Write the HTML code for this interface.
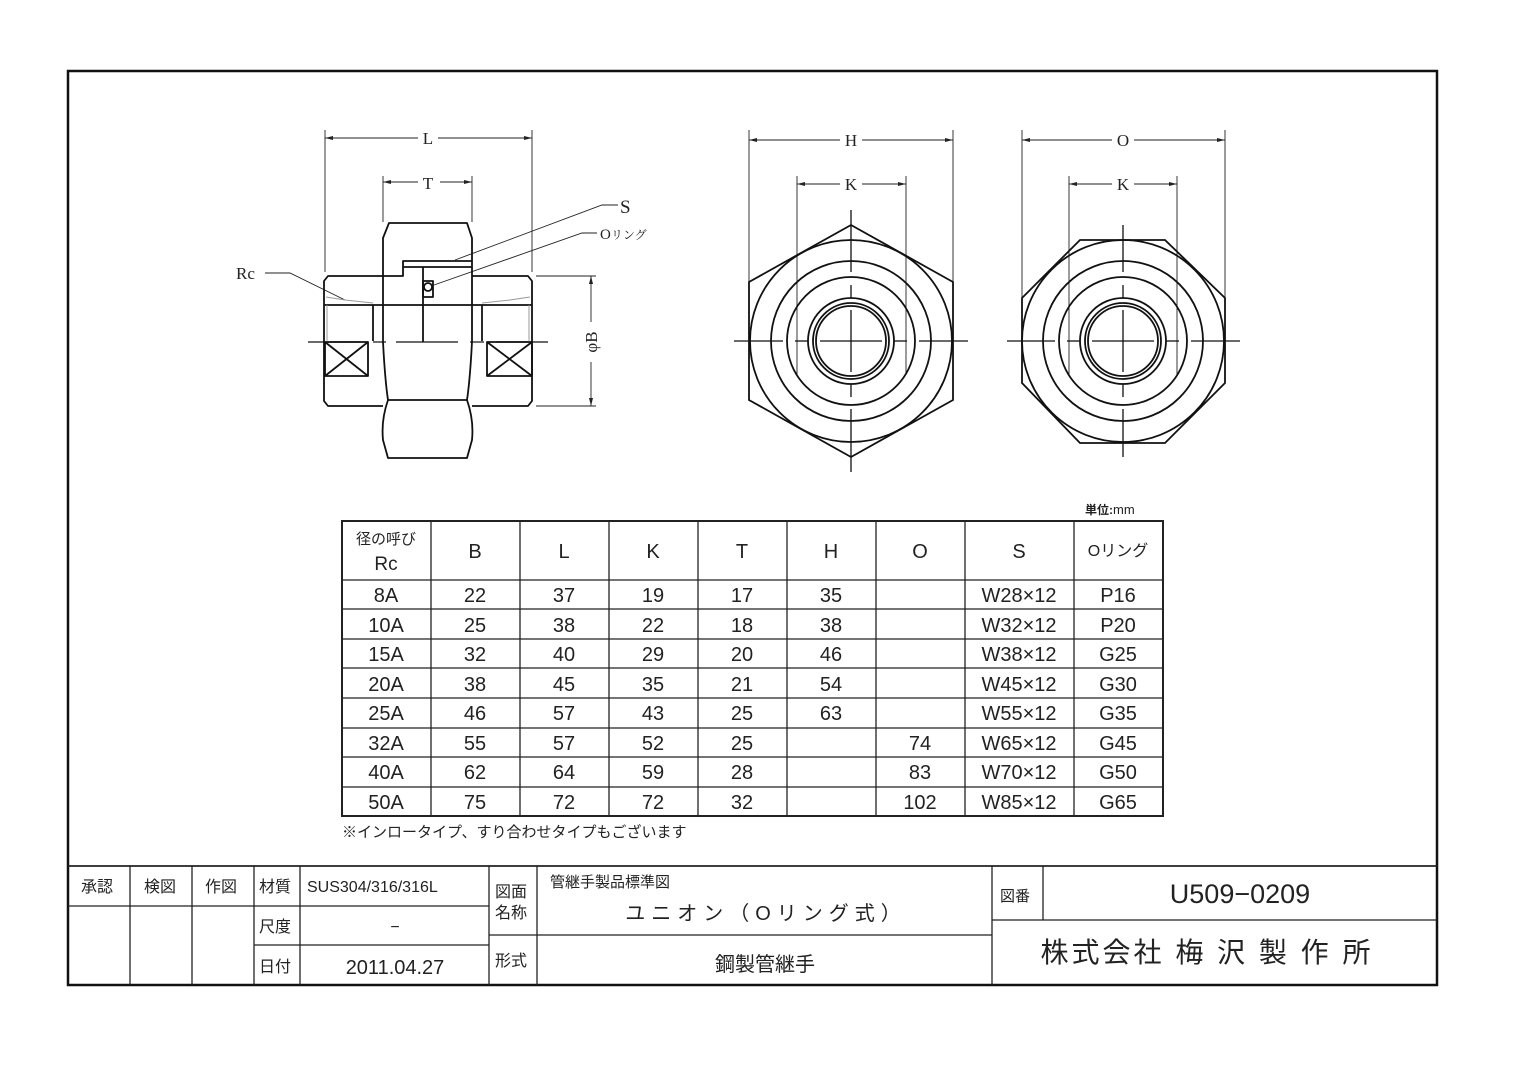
<!DOCTYPE html>
<html><head><meta charset="utf-8"><style>
html,body{margin:0;padding:0;background:#fff;}
svg{display:block;}
text{font-family:"Liberation Sans","Noto Sans CJK JP",sans-serif;fill:#222;}
.s{font-family:"Liberation Serif","Noto Serif CJK SC",serif;}
</style></head><body>
<svg width="1536" height="1086" viewBox="0 0 1536 1086" xmlns="http://www.w3.org/2000/svg">
<rect x="0" y="0" width="1536" height="1086" fill="#fff"/>
<rect x="68" y="71" width="1369" height="914" fill="none" stroke="#111" stroke-width="2.5"/>

<g stroke="#222" stroke-width="0.9" fill="none">
 <line x1="325" y1="130" x2="325" y2="272"/><line x1="532" y1="130" x2="532" y2="272"/>
 <line x1="325" y1="138" x2="418" y2="138"/><line x1="438" y1="138" x2="532" y2="138"/>
 <line x1="383" y1="176" x2="383" y2="222"/><line x1="472" y1="176" x2="472" y2="222"/>
 <line x1="383" y1="182" x2="418" y2="182"/><line x1="440" y1="182" x2="472" y2="182"/>
 <line x1="536" y1="276" x2="596" y2="276"/><line x1="536" y1="406" x2="596" y2="406"/>
 <line x1="591" y1="276" x2="591" y2="322"/><line x1="591" y1="362" x2="591" y2="406"/>
 <polyline points="265,273 290,273 345,300"/>
 <polyline points="618,205 602,205 455,260"/>
 <polyline points="597,233 582,233 434,285"/>
</g>
<g fill="#222">
 <polygon points="325,138 333,136 333,140"/><polygon points="532,138 524,136 524,140"/>
 <polygon points="383,182 391,180 391,184"/><polygon points="472,182 464,180 464,184"/>
 <polygon points="591,276 589,284 593,284"/><polygon points="591,406 589,398 593,398"/>
</g>
<text class="s" x="428" y="144" font-size="17" text-anchor="middle">L</text>
<text class="s" x="428" y="189" font-size="17" text-anchor="middle">T</text>
<text class="s" x="236" y="279" font-size="17">Rc</text>
<text class="s" x="620" y="213" font-size="19">S</text>
<text class="s" x="600" y="239" font-size="15">O<tspan font-size="12">リング</tspan></text>
<text class="s" x="0" y="0" font-size="17" text-anchor="middle" transform="translate(597,342) rotate(-90)">φB</text>

<g stroke="#111" stroke-width="1.8" fill="none" stroke-linejoin="round">
 <path d="M383,276 L383,238 L389,223 L467,223 L472,238 L472,276"/>
 <path d="M383,276 L403,276 L403,261 L472,261"/>
 <line x1="403" y1="267" x2="472" y2="267"/>
 <path d="M383,276 L328,276 L324,281 L324,401 L328,406 L383,406"/>
 <path d="M472,276 L528,276 L532,281 L532,401 L528,406 L472,406"/>
 <line x1="324" y1="305" x2="532" y2="305"/>
 <line x1="373" y1="305" x2="373" y2="341"/><line x1="482" y1="305" x2="482" y2="341"/>
 <line x1="423" y1="267" x2="423" y2="342"/>
 <rect x="423" y="281" width="10" height="16"/>
 <circle cx="428" cy="287" r="4"/>
 <path d="M383,276 L383,342 Q385,380 388,400 L467,400 Q470,380 472,342 L472,276"/>
 <path d="M388,400 Q381,420 383,440 L388,458 L467,458 L472,440 Q474,420 467,400"/>
 <rect x="325" y="342" width="43" height="34"/><line x1="325" y1="342" x2="368" y2="376"/><line x1="368" y1="342" x2="325" y2="376"/>
 <rect x="487" y="342" width="45" height="34"/><line x1="487" y1="342" x2="532" y2="376"/><line x1="532" y1="342" x2="487" y2="376"/>
</g>
<g stroke="#999" stroke-width="1" fill="none">
 <line x1="327" y1="305" x2="327" y2="342"/><line x1="529" y1="305" x2="529" y2="342"/>
 <polyline points="326,297 345,300 373,303"/><polyline points="482,303 510,300 530,297"/>
</g>
<g stroke="#111" stroke-width="1.2">
 <line x1="308" y1="342" x2="360" y2="342"/><line x1="373" y1="342" x2="386" y2="342"/>
 <line x1="396" y1="342" x2="458" y2="342"/><line x1="470" y1="342" x2="484" y2="342"/>
 <line x1="496" y1="342" x2="548" y2="342"/>
</g>

<g stroke="#222" stroke-width="0.9" fill="none">
 <line x1="749" y1="130" x2="749" y2="282"/><line x1="953" y1="130" x2="953" y2="282"/>
 <line x1="749" y1="140" x2="840" y2="140"/><line x1="862" y1="140" x2="953" y2="140"/>
 <line x1="797" y1="176" x2="797" y2="375"/><line x1="906" y1="176" x2="906" y2="375"/>
 <line x1="797" y1="184" x2="840" y2="184"/><line x1="862" y1="184" x2="906" y2="184"/>
 <line x1="1022" y1="130" x2="1022" y2="298"/><line x1="1225" y1="130" x2="1225" y2="298"/>
 <line x1="1022" y1="140" x2="1112" y2="140"/><line x1="1134" y1="140" x2="1225" y2="140"/>
 <line x1="1069" y1="176" x2="1069" y2="375"/><line x1="1177" y1="176" x2="1177" y2="375"/>
 <line x1="1069" y1="184" x2="1112" y2="184"/><line x1="1134" y1="184" x2="1177" y2="184"/>
</g>
<g fill="#222">
 <polygon points="749,140 757,138 757,142"/><polygon points="953,140 945,138 945,142"/>
 <polygon points="797,184 805,182 805,186"/><polygon points="906,184 898,182 898,186"/>
 <polygon points="1022,140 1030,138 1030,142"/><polygon points="1225,140 1217,138 1217,142"/>
 <polygon points="1069,184 1077,182 1077,186"/><polygon points="1177,184 1169,182 1169,186"/>
</g>
<text class="s" x="851" y="146" font-size="17" text-anchor="middle">H</text>
<text class="s" x="851" y="190" font-size="17" text-anchor="middle">K</text>
<text class="s" x="1123" y="146" font-size="17" text-anchor="middle">O</text>
<text class="s" x="1123" y="190" font-size="17" text-anchor="middle">K</text>

<g stroke="#111" stroke-width="1.8" fill="none">
 <polygon points="851,225 953,282 953,400 851,457 749,400 749,282"/>
 <circle cx="851" cy="341" r="101"/><circle cx="851" cy="341" r="80"/><circle cx="851" cy="341" r="64"/>
 <circle cx="851" cy="341" r="43"/><circle cx="851" cy="341" r="38"/><circle cx="851" cy="341" r="35"/>
 <polygon points="1080,240 1165,240 1225,298 1225,383 1165,443 1080,443 1022,383 1022,298"/>
 <circle cx="1123" cy="341" r="101"/><circle cx="1123" cy="341" r="80"/><circle cx="1123" cy="341" r="64"/>
 <circle cx="1123" cy="341" r="43"/><circle cx="1123" cy="341" r="38"/><circle cx="1123" cy="341" r="35"/>
</g>
<g stroke="#111" stroke-width="1.3">
 <line x1="734" y1="341" x2="783" y2="341"/><line x1="795" y1="341" x2="808" y2="341"/><line x1="820" y1="341" x2="882" y2="341"/><line x1="894" y1="341" x2="907" y2="341"/><line x1="919" y1="341" x2="968" y2="341"/>
 <line x1="851" y1="210" x2="851" y2="272"/><line x1="851" y1="285" x2="851" y2="298"/><line x1="851" y1="310" x2="851" y2="372"/><line x1="851" y1="384" x2="851" y2="397"/><line x1="851" y1="409" x2="851" y2="472"/>
 <line x1="1007" y1="341" x2="1055" y2="341"/><line x1="1067" y1="341" x2="1080" y2="341"/><line x1="1092" y1="341" x2="1154" y2="341"/><line x1="1166" y1="341" x2="1179" y2="341"/><line x1="1191" y1="341" x2="1240" y2="341"/>
 <line x1="1123" y1="225" x2="1123" y2="272"/><line x1="1123" y1="285" x2="1123" y2="298"/><line x1="1123" y1="310" x2="1123" y2="372"/><line x1="1123" y1="384" x2="1123" y2="397"/><line x1="1123" y1="409" x2="1123" y2="457"/>
</g>

<text x="1085" y="514" font-size="12" font-weight="bold">単位:<tspan font-weight="normal" font-size="13">mm</tspan></text>
<g stroke="#222" stroke-width="1.3" fill="none">
 <rect x="342" y="521" width="821" height="295" stroke-width="2"/>
 <line x1="431" y1="521" x2="431" y2="816"/><line x1="520" y1="521" x2="520" y2="816"/>
 <line x1="609" y1="521" x2="609" y2="816"/><line x1="698" y1="521" x2="698" y2="816"/>
 <line x1="787" y1="521" x2="787" y2="816"/><line x1="876" y1="521" x2="876" y2="816"/>
 <line x1="965" y1="521" x2="965" y2="816"/><line x1="1074" y1="521" x2="1074" y2="816"/>
 <line x1="342" y1="580" x2="1163" y2="580"/><line x1="342" y1="609" x2="1163" y2="609"/>
 <line x1="342" y1="639" x2="1163" y2="639"/><line x1="342" y1="668" x2="1163" y2="668"/>
 <line x1="342" y1="698" x2="1163" y2="698"/><line x1="342" y1="728" x2="1163" y2="728"/>
 <line x1="342" y1="757" x2="1163" y2="757"/><line x1="342" y1="787" x2="1163" y2="787"/>
</g>
<g font-size="20" text-anchor="middle" style="fill:#333">
 <text x="386" y="544" font-size="15">径の呼び</text><text x="386" y="570" font-size="19">Rc</text>
 <text x="475" y="558">B</text><text x="564" y="558">L</text><text x="653" y="558">K</text><text x="742" y="558">T</text><text x="831" y="558">H</text><text x="920" y="558">O</text><text x="1019" y="558">S</text><text x="1118" y="556" font-size="16">Oリング</text>
 <text x="386" y="602">8A</text><text x="475" y="602">22</text><text x="564" y="602">37</text><text x="653" y="602">19</text><text x="742" y="602">17</text><text x="831" y="602">35</text><text x="1019" y="602">W28×12</text><text x="1118" y="602">P16</text>
 <text x="386" y="632">10A</text><text x="475" y="632">25</text><text x="564" y="632">38</text><text x="653" y="632">22</text><text x="742" y="632">18</text><text x="831" y="632">38</text><text x="1019" y="632">W32×12</text><text x="1118" y="632">P20</text>
 <text x="386" y="661">15A</text><text x="475" y="661">32</text><text x="564" y="661">40</text><text x="653" y="661">29</text><text x="742" y="661">20</text><text x="831" y="661">46</text><text x="1019" y="661">W38×12</text><text x="1118" y="661">G25</text>
 <text x="386" y="691">20A</text><text x="475" y="691">38</text><text x="564" y="691">45</text><text x="653" y="691">35</text><text x="742" y="691">21</text><text x="831" y="691">54</text><text x="1019" y="691">W45×12</text><text x="1118" y="691">G30</text>
 <text x="386" y="720">25A</text><text x="475" y="720">46</text><text x="564" y="720">57</text><text x="653" y="720">43</text><text x="742" y="720">25</text><text x="831" y="720">63</text><text x="1019" y="720">W55×12</text><text x="1118" y="720">G35</text>
 <text x="386" y="750">32A</text><text x="475" y="750">55</text><text x="564" y="750">57</text><text x="653" y="750">52</text><text x="742" y="750">25</text><text x="920" y="750">74</text><text x="1019" y="750">W65×12</text><text x="1118" y="750">G45</text>
 <text x="386" y="779">40A</text><text x="475" y="779">62</text><text x="564" y="779">64</text><text x="653" y="779">59</text><text x="742" y="779">28</text><text x="920" y="779">83</text><text x="1019" y="779">W70×12</text><text x="1118" y="779">G50</text>
 <text x="386" y="809">50A</text><text x="475" y="809">75</text><text x="564" y="809">72</text><text x="653" y="809">72</text><text x="742" y="809">32</text><text x="920" y="809">102</text><text x="1019" y="809">W85×12</text><text x="1118" y="809">G65</text>
</g>
<text x="342" y="837" font-size="15">※インロータイプ、すり合わせタイプもございます</text>

<g stroke="#222" stroke-width="1.3" fill="none">
 <line x1="68" y1="866" x2="1437" y2="866" stroke-width="1.8"/>
 <line x1="68" y1="906" x2="489" y2="906"/>
 <line x1="254" y1="945" x2="489" y2="945"/>
 <line x1="489" y1="935" x2="992" y2="935"/>
 <line x1="992" y1="920" x2="1437" y2="920"/>
 <line x1="130" y1="866" x2="130" y2="985"/><line x1="192" y1="866" x2="192" y2="985"/>
 <line x1="254" y1="866" x2="254" y2="985"/><line x1="300" y1="866" x2="300" y2="985"/>
 <line x1="489" y1="866" x2="489" y2="985"/><line x1="537" y1="866" x2="537" y2="985"/>
 <line x1="992" y1="866" x2="992" y2="985"/><line x1="1043" y1="866" x2="1043" y2="920"/>
</g>
<g font-size="16">
 <text x="81" y="892">承認</text><text x="144" y="892">検図</text><text x="205" y="892">作図</text>
 <text x="259" y="892">材質</text><text x="307" y="892">SUS304/316/316L</text>
 <text x="259" y="932">尺度</text><text x="395" y="932" text-anchor="middle">−</text>
 <text x="259" y="972">日付</text><text x="395" y="974" text-anchor="middle" font-size="20">2011.04.27</text>
 <text x="495" y="897">図面</text><text x="495" y="918">名称</text>
 <text x="495" y="966">形式</text>
 <text x="550" y="887" font-size="15">管継手製品標準図</text>
 <text x="766" y="920" text-anchor="middle" font-size="20" letter-spacing="6">ユニオン（Oリング式）</text>
 <text x="765" y="971" text-anchor="middle" font-size="20">鋼製管継手</text>
 <text x="1000" y="901" font-size="15">図番</text>
 <text x="1240" y="903" text-anchor="middle" font-size="27">U509−0209</text>
 <text x="1207" y="962" text-anchor="middle" font-size="28" letter-spacing="3">株式会社 梅 沢 製 作 所</text>
</g>
</svg>
</body></html>
